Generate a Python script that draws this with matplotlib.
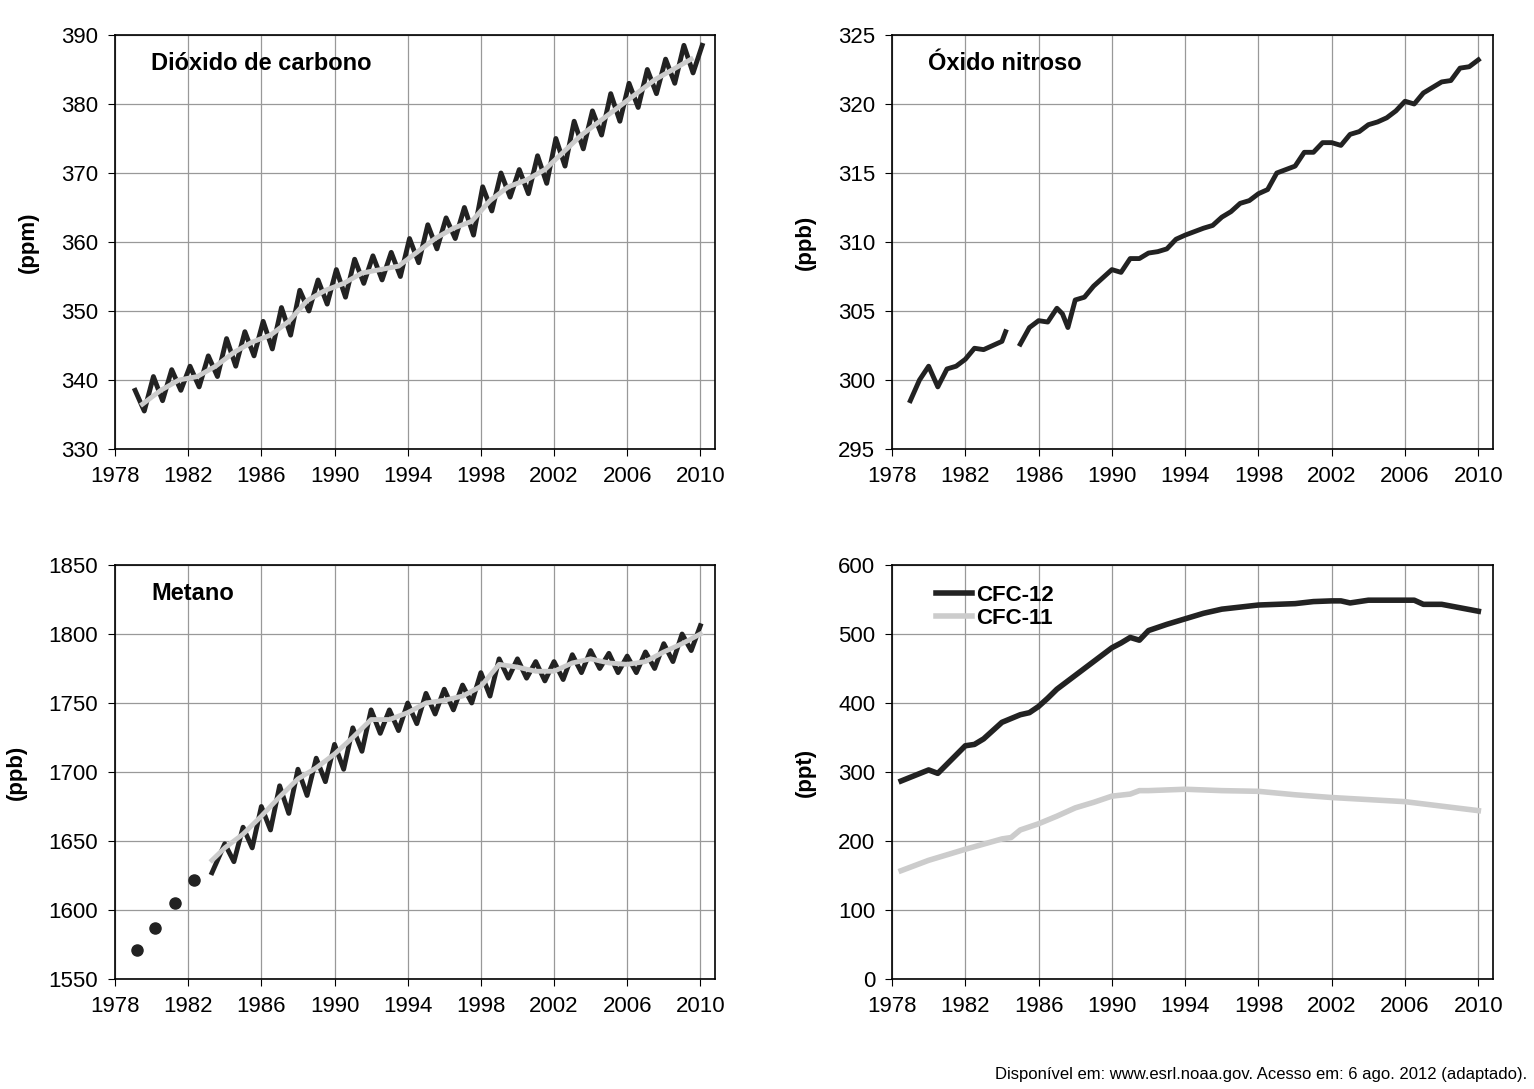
import matplotlib
matplotlib.use("Agg")
import matplotlib.pyplot as plt
import numpy as np

plt.rcParams['font.family'] = ['Liberation Sans', 'DejaVu Sans']

years = list(range(1979, 2011))
co2_trend = [336.5,338.5,340,340.5,342,344,345.5,346.5,348.5,351.5,353,354,355.5,356,356.5,358.5,
             360.5,362,363,366,368,369,370.5,373,375.5,377.5,379.5,381.5,383.5,385,386.5,388]
co2_peak = [338.5,340.5,341.5,342,343.5,346,347,348.5,350.5,353,354.5,356,357.5,358,358.5,360.5,
            362.5,363.5,365,368,370,370.5,372.5,375,377.5,379,381.5,383,385,386.5,388.5,388.5]
co2_trough = [335.5,337,338.5,339,340.5,342,343.5,344.5,346.5,350,351,352,354,354.5,355,357,
              359,360.5,361,364.5,366.5,367,368.5,371,373.5,375.5,377.5,379.5,381.5,383,384.5]

n2o_x1 = [1979,1979.5,1980,1980.5,1981,1981.5,1982,1982.5,1983,1983.5,1984,1984.2]
n2o_y1 = [298.5,300,301,299.5,300.8,301,301.5,302.3,302.2,302.5,302.8,303.5]
n2o_x2 = [1985,1985.5,1986,1986.5,1987,1987.3,1987.6,1988,1988.5,1989,1990,1990.5,1991,1991.5,1992,1992.5,
          1993,1993.5,1994,1995,1995.5,1996,1996.5,1997,1997.5,1998,1998.5,1999,2000,2000.5,2001,2001.5,
          2002,2002.5,2003,2003.5,2004,2004.5,2005,2005.5,2006,2006.5,2007,2007.5,2008,2008.5,2009,2009.5,2010]
n2o_y2 = [302.6,303.8,304.3,304.2,305.2,304.8,303.8,305.8,306,306.8,308,307.8,308.8,308.8,309.2,309.3,
          309.5,310.2,310.5,311,311.2,311.8,312.2,312.8,313,313.5,313.8,315,315.5,316.5,316.5,317.2,
          317.2,317,317.8,318,318.5,318.7,319,319.5,320.2,320,320.8,321.2,321.6,321.7,322.6,322.7,323.2]

ch4_dot_x = [1979.2,1980.2,1981.3,1982.3]
ch4_dot_y = [1571,1587,1605,1622]
ch4_years = list(range(1984, 2011))
ch4_trend = [1645,1655,1668,1682,1695,1703,1713,1725,1738,1738,1743,1750,1752,1755,1762,1778,
             1776,1773,1773,1779,1782,1779,1778,1780,1787,1793,1800]
ch4_peak = [1648,1660,1675,1690,1702,1710,1720,1732,1745,1745,1750,1757,1760,1763,1772,1782,
            1782,1780,1780,1785,1788,1786,1784,1787,1793,1800,1806]
ch4_trough = [1635,1645,1658,1670,1683,1693,1702,1715,1728,1730,1735,1742,1745,1750,1755,1768,
              1768,1766,1767,1772,1775,1772,1772,1775,1780,1788]

cfc12_x = [1978.5,1980,1980.5,1982,1982.5,1983,1983.5,1984,1985,1985.5,1986,1986.5,1987,1987.5,1988,1990,1990.5,
           1991,1991.5,1992,1993,1994,1995,1996,1998,2000,2001,2002,2002.5,2003,2004,2006,2006.5,2007,2008,2009,2010]
cfc12_y = [287,303,298,338,340,348,360,372,383,386,395,407,420,430,440,480,487,
           495,491,505,514,522,530,536,542,544,547,548,548,545,549,549,549,543,543,538,533]
cfc11_x = [1978.5,1980,1982,1984,1984.5,1985,1986,1987,1988,1989,1990,1991,1991.5,1992,1994,1996,1998,2000,2002,2006,2010]
cfc11_y = [157,172,188,203,205,216,225,236,248,256,265,268,273,273,275,273,272,267,263,257,244]

fig = plt.figure(figsize=(15.34, 10.89), dpi=100)
W, H = 1534, 1089
def mkax(l, t, r, b):
    return fig.add_axes([l/W, 1-b/H, (r-l)/W, (b-t)/H])

xt = list(range(1978, 2011, 4))
def style(ax, ylim, yticks, ylabel, title=None):
    ax.set_xlim(1978, 2010.8)
    ax.set_ylim(*ylim)
    ax.set_xticks(xt)
    ax.set_yticks(yticks)
    ax.grid(True, color='#999999', lw=0.9)
    ax.set_axisbelow(True)
    ax.tick_params(labelsize=16, direction='out', length=5, pad=7)
    ax.set_ylabel(ylabel, fontsize=16, fontweight='bold', labelpad=16)
    for s in ax.spines.values():
        s.set_linewidth(1.2)
    if title:
        ax.text(0.06, 0.96, title, transform=ax.transAxes, fontsize=17, fontweight='bold', va='top')

# CO2
ax = mkax(115, 35, 715, 449)
sx, sy = [], []
for i, y in enumerate(years):
    sx.append(y + 0.1); sy.append(co2_peak[i])
    if i < len(co2_trough):
        sx.append(y + 0.6); sy.append(co2_trough[i])
ax.plot(sx, sy, color='#222222', lw=3.5)
ax.plot(np.array(years[:-1]) + 0.5, co2_trend[:-1], color='#cccccc', lw=3.5)
style(ax, (330, 390), range(330, 391, 10), '(ppm)', 'Dióxido de carbono')

# N2O
ax = mkax(892, 35, 1493, 449)
ax.plot(n2o_x1, n2o_y1, color='#222222', lw=3.5)
ax.plot(n2o_x2, n2o_y2, color='#222222', lw=3.5)
style(ax, (295, 325), range(295, 326, 5), '(ppb)', 'Óxido nitroso')

# CH4
ax = mkax(115, 565, 715, 979)
ax.plot(ch4_dot_x, ch4_dot_y, 'o', color='#222222', ms=8)
sx, sy = [1983.3], [1627]
for i, y in enumerate(ch4_years):
    sx.append(y + 0.0); sy.append(ch4_peak[i])
    if i < len(ch4_trough):
        sx.append(y + 0.5); sy.append(ch4_trough[i])
ax.plot(sx, sy, color='#222222', lw=3.5)
ax.plot([1983.3] + [y + 0.0 for y in ch4_years], [1636] + ch4_trend, color='#cccccc', lw=3.5)
style(ax, (1550, 1850), range(1550, 1851, 50), '(ppb)', 'Metano')

# CFC
ax = mkax(892, 565, 1493, 979)
ax.plot(cfc12_x, cfc12_y, color='#222222', lw=4, label='CFC-12')
ax.plot(cfc11_x, cfc11_y, color='#cccccc', lw=4, label='CFC-11')
style(ax, (0, 600), range(0, 601, 100), '(ppt)')
leg = ax.legend(loc='upper left', bbox_to_anchor=(0.04, 1.0), frameon=False, fontsize=16,
                handlelength=1.6, handletextpad=0.2, labelspacing=0.1)
for t in leg.get_texts():
    t.set_fontweight('bold')

fig.text(1527/W, 1-1074/H, 'Disponível em: www.esrl.noaa.gov. Acesso em: 6 ago. 2012 (adaptado).',
         ha='right', va='center', fontsize=12)
fig.savefig('out.png', dpi=100)
